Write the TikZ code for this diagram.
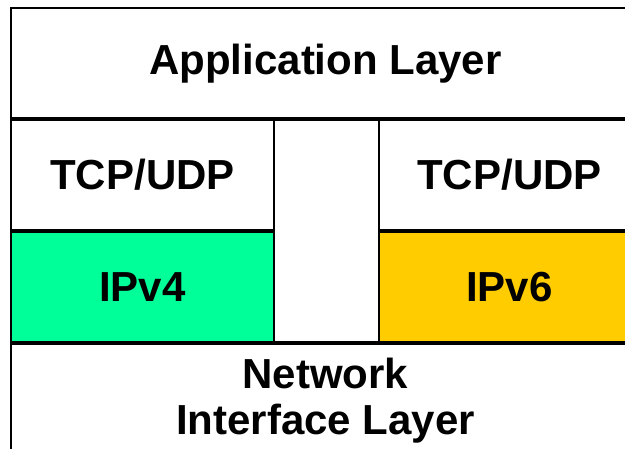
\documentclass[tikz,border=0pt]{standalone}
\usepackage{fontspec}
\setmainfont{Liberation Sans}
\usetikzlibrary{positioning}
\definecolor{ipfour}{RGB}{0,255,153}
\definecolor{ipsix}{RGB}{255,204,0}

\begin{document}
\begin{tikzpicture}[x=1pt,y=1pt,
    layer/.style={draw,line width=2pt,rectangle,anchor=north west,outer sep=0,inner sep=0,
      font=\fontsize{42}{46}\selectfont\bfseries,align=center},
    sep/.style={line width=4pt}]

    \useasboundingbox (0,0) rectangle (625,449);
    \clip (0,0) rectangle (625,449);

    % stack of layers
    \node[layer,minimum width=629,minimum height=111] (app) at (11,441) {Application Layer};
    \node[layer,minimum width=263,minimum height=112] (tcpl) at (app.south west) {TCP/UDP};
    \node[layer,fill=ipfour,minimum width=263,minimum height=112] (ipv4) at (tcpl.south west) {IPv4};
    \node[layer,minimum width=105,minimum height=224] (gap) at (tcpl.north east) {};
    \node[layer,minimum width=261,minimum height=112] (tcpr) at (gap.north east) {TCP/UDP};
    \node[layer,fill=ipsix,minimum width=261,minimum height=112] (ipv6) at (tcpr.south west) {IPv6};
    \node[layer,minimum width=629,minimum height=140] (net) at (ipv4.south west) {};
    \node[font=\fontsize{42}{46}\selectfont\bfseries,align=center,inner sep=0,anchor=north]
      (netlbl) at ([yshift=-15]net.north) {Network\\Interface Layer};

    % heavier rules between layers
    \draw[sep] (app.south west) -- (app.south east);
    \draw[sep] (tcpl.south west) -- (tcpl.south east);
    \draw[sep] (tcpr.south west) -- (tcpr.south east);
    \draw[sep] (net.north west) -- (net.north east);

\end{tikzpicture}
\end{document}
